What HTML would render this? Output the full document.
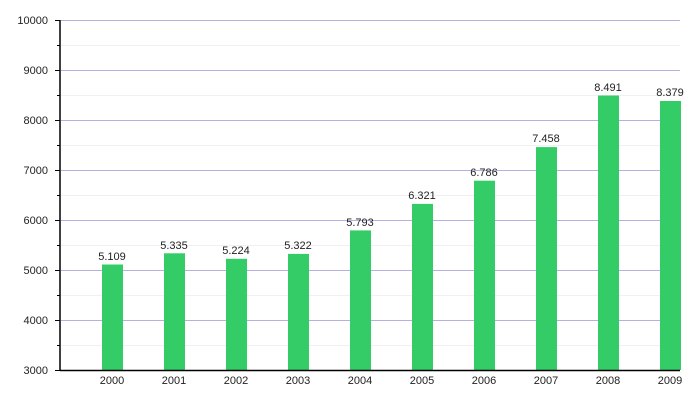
<!DOCTYPE html>
<html><head><meta charset="utf-8"><style>body{margin:0;background:#fff}</style></head><body>
<svg width="700" height="400" xmlns="http://www.w3.org/2000/svg" font-family="Liberation Sans, sans-serif" font-size="11" fill="#222">
<g stroke="#f0f0f4" stroke-width="1">
<line x1="61" x2="680" y1="45.5" y2="45.5"/><line x1="61" x2="680" y1="95.5" y2="95.5"/><line x1="61" x2="680" y1="145.5" y2="145.5"/><line x1="61" x2="680" y1="195.5" y2="195.5"/><line x1="61" x2="680" y1="245.5" y2="245.5"/><line x1="61" x2="680" y1="295.5" y2="295.5"/><line x1="61" x2="680" y1="345.5" y2="345.5"/>
</g>
<g stroke="#b4b0e0" stroke-width="1">
<line x1="61" x2="680" y1="20.5" y2="20.5"/><line x1="61" x2="680" y1="70.5" y2="70.5"/><line x1="61" x2="680" y1="120.5" y2="120.5"/><line x1="61" x2="680" y1="170.5" y2="170.5"/><line x1="61" x2="680" y1="220.5" y2="220.5"/><line x1="61" x2="680" y1="270.5" y2="270.5"/><line x1="61" x2="680" y1="320.5" y2="320.5"/>
</g>
<g fill="#33cc66">
<rect x="102" y="264.5" width="21" height="105.5"/>
<rect x="164" y="253.3" width="21" height="116.7"/>
<rect x="226" y="258.8" width="21" height="111.2"/>
<rect x="288" y="253.9" width="21" height="116.1"/>
<rect x="350" y="230.4" width="21" height="139.6"/>
<rect x="412" y="203.9" width="21" height="166.1"/>
<rect x="474" y="180.7" width="21" height="189.3"/>
<rect x="536" y="147.1" width="21" height="222.9"/>
<rect x="598" y="95.5" width="21" height="274.5"/>
<rect x="660" y="101" width="21" height="269"/>
</g>
<g stroke="#000" stroke-width="1.5">
<line x1="60" x2="60" y1="20" y2="371"/><line x1="60" x2="680" y1="370.5" y2="370.5"/>
</g>
<g stroke="#000" stroke-width="1">
<line x1="55" x2="60" y1="20.5" y2="20.5"/><line x1="57" x2="60" y1="45.5" y2="45.5"/><line x1="55" x2="60" y1="70.5" y2="70.5"/><line x1="57" x2="60" y1="95.5" y2="95.5"/><line x1="55" x2="60" y1="120.5" y2="120.5"/><line x1="57" x2="60" y1="145.5" y2="145.5"/><line x1="55" x2="60" y1="170.5" y2="170.5"/><line x1="57" x2="60" y1="195.5" y2="195.5"/><line x1="55" x2="60" y1="220.5" y2="220.5"/><line x1="57" x2="60" y1="245.5" y2="245.5"/><line x1="55" x2="60" y1="270.5" y2="270.5"/><line x1="57" x2="60" y1="295.5" y2="295.5"/><line x1="55" x2="60" y1="320.5" y2="320.5"/><line x1="57" x2="60" y1="345.5" y2="345.5"/><line x1="55" x2="60" y1="370.5" y2="370.5"/>
</g>
<g text-anchor="end">
<text x="48" y="24">10000</text><text x="48" y="74">9000</text><text x="48" y="124">8000</text><text x="48" y="174">7000</text><text x="48" y="224">6000</text><text x="48" y="274">5000</text><text x="48" y="324">4000</text><text x="48" y="374">3000</text>
</g>
<g text-anchor="middle">
<text x="112" y="384">2000</text><text x="174" y="384">2001</text><text x="236" y="384">2002</text><text x="298" y="384">2003</text><text x="360" y="384">2004</text><text x="422" y="384">2005</text><text x="484" y="384">2006</text><text x="546" y="384">2007</text><text x="608" y="384">2008</text><text x="670" y="384">2009</text>
<text x="112" y="260">5.109</text><text x="174" y="249">5.335</text><text x="236" y="254">5.224</text><text x="298" y="249">5.322</text><text x="360" y="226">5.793</text><text x="422" y="199">6.321</text><text x="484" y="176">6.786</text><text x="546" y="142">7.458</text><text x="608" y="91">8.491</text><text x="670" y="96">8.379</text>
</g>
</svg>
</body></html>
